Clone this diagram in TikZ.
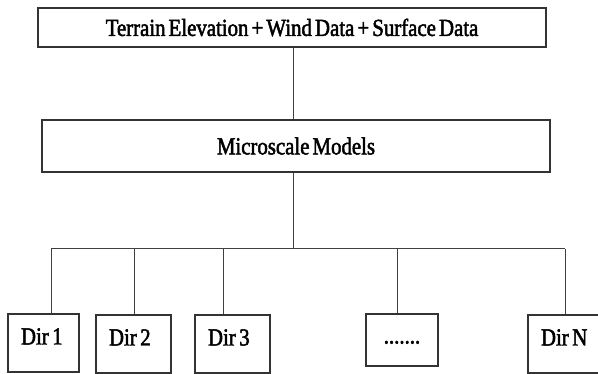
\documentclass[tikz,border=0pt]{standalone}
\usepackage{fontspec}
\setmainfont[FakeStretch=0.85,FakeBold=2,WordSpace=0.6]{Liberation Serif}
\tikzset{
  box/.style={draw=black!80, line width=1.4pt, inner sep=0pt, font=\fontsize{24.5}{27}\selectfont},
  dirbox/.style={box, minimum height=58pt, text height=15pt, text depth=12pt, align=left, inner xsep=4pt,
    execute at begin node={\spaceskip=3.5pt\hspace*{9pt}}},
  dotbox/.style={box, minimum width=72pt, minimum height=52pt, text height=15pt, text depth=8pt},
  wire/.style={draw=black!75, line width=1pt}
}
\begin{document}
\begin{tikzpicture}[x=1pt,y=-1pt]
      \clip (0,0) rectangle (598,374);
      \useasboundingbox (0,0) rectangle (598,374);

        \node[box, minimum width=508pt, minimum height=39pt] (data) at (292,27.5) {Terrain Elevation + Wind Data + Surface Data};
        \node[box, minimum width=508pt, minimum height=52pt] (micro) at (296,146) {Microscale Models};

        \node[dirbox, text width=63pt] (d1) at (43.5,343) {Dir 1};
        \node[dirbox, text width=67pt] (d2) at (133.5,344) {Dir 2};
        \node[dirbox, text width=67pt] (d3) at (232.5,344) {Dir 3};
        \node[dotbox] (dd) at (402,340) {.......};
        \node[dirbox, text width=67pt] (dn) at (565.5,344) {Dir N};

        \coordinate (hub) at (293,249);
        \coordinate (b1) at (51,249);
        \coordinate (b2) at (134,249);
        \coordinate (b3) at (223,249);
        \coordinate (bd) at (397,249);
        \coordinate (bn) at (565,249);

        \draw[wire] (data.south -| hub) -- (micro.north -| hub);
        \draw[wire] (micro.south -| hub) -- (hub);
        \draw[wire] (b1) -- (bn);

        \draw[wire] (b1) -- (b1 |- d1.north);
        \draw[wire] (b2) -- (b2 |- d2.north);
        \draw[wire] (b3) -- (b3 |- d3.north);
        \draw[wire] (bd) -- (bd |- dd.north);
        \draw[wire] (bn) -- (bn |- dn.north);

    \end{tikzpicture}
\end{document}
